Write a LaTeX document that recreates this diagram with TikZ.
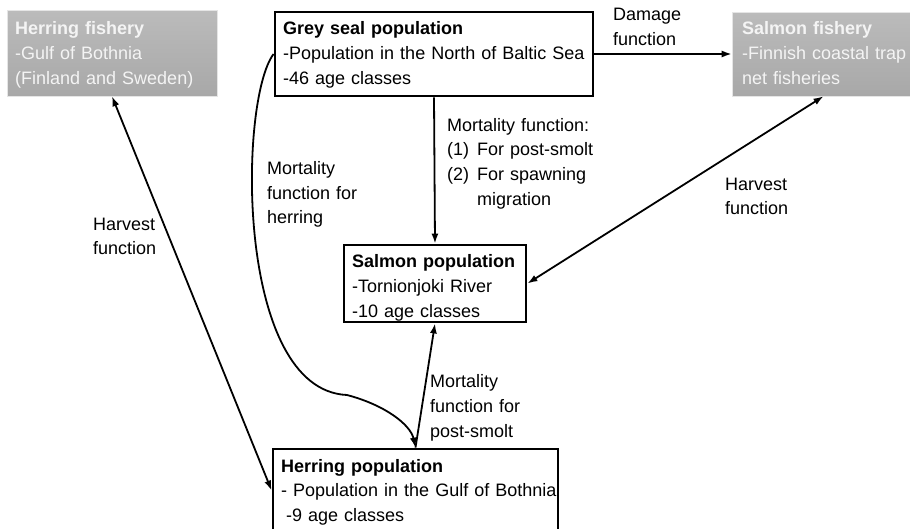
\documentclass[tikz,border=0pt]{standalone}
\usepackage{fontspec}
\setmainfont{Liberation Sans}
\usetikzlibrary{arrows.meta}
\definecolor{fishtop}{HTML}{BBBBBB}
\definecolor{fishbot}{HTML}{A8A8A8}
\definecolor{fishtext}{HTML}{F4F4F4}
\begin{document}
\begin{tikzpicture}[x=1pt,y=-1pt,
  popbox/.style={draw, line width=2.8pt, inner sep=0pt},
  fishbox/.style={top color=fishtop, bottom color=fishbot, draw=white!80!gray, line width=0.6pt, inner sep=0pt},
  txt/.style={font=\fontsize{18pt}{24.8pt}\selectfont, inner sep=0pt, align=left, anchor=base west},
  conn/.style={line width=1.8pt, -{Latex[length=10pt,width=7pt]}},
  biconn/.style={line width=1.8pt, {Latex[length=10pt,width=7pt]}-{Latex[length=10pt,width=7pt]}}
]
\useasboundingbox (0,0) rectangle (910,528);
\clip (0,0) rectangle (910,528);

% boxes
\node[fishbox, minimum width=210pt, minimum height=86pt] (hf) at (112,53) {};
\node[txt, text width=200pt, text=fishtext] (hft) at (15,34.5) {\textbf{Herring fishery}\\-Gulf of Bothnia\\(Finland and Sweden)};

\node[popbox, minimum width=318pt, minimum height=84pt] (gs) at (434,54) {};
\node[txt, text width=305pt] (gst) at (283,34.5) {\textbf{Grey seal population}\\-Population in the North of Baltic Sea\\-46 age classes};

\node[fishbox, minimum width=183pt, minimum height=84pt] (sf) at (823.5,54) {};
\node[txt, text width=175pt, text=fishtext] (sft) at (742,34.5) {\textbf{Salmon fishery}\\-Finnish coastal trap\\net fisheries};

\node[popbox, minimum width=182pt, minimum height=77pt] (sp) at (435,283.5) {};
\node[txt, text width=170pt] (spt) at (352,267.7) {\textbf{Salmon population}\\-Tornionjoki River\\-10 age classes};

\node[popbox, minimum width=285pt, minimum height=83pt] (hp) at (415.5,490.5) {};
\node[txt, text width=280pt] (hpt) at (281,472) {\textbf{Herring population}\\- Population in the Gulf of Bothnia\\\hspace*{5pt}-9 age classes};

% connectors
\draw[conn] (gs.east) -- (sf.west);
\draw[conn] (gs.south) -- (sp.north);
\draw[biconn] (hf.south) -- (hp.west);
\draw[biconn] (sf.south) -- (sp.east);
\draw[conn] (hp.north) -- (sp.south);
\coordinate (bend) at (347,395);
\draw[conn] (gs.west) .. controls +(-35,46) and +(-112,-5) .. (bend) .. controls +(38,10) and +(-5,-23) .. (hp.north);

% labels
\node[txt, text width=100pt] (dmg) at (613,20.5) {Damage\\function};
\node[txt, text width=200pt] (mf) at (447,131) {Mortality function:\\\makebox[30pt][l]{(1)}For post-smolt\\\makebox[30pt][l]{(2)}For spawning\\\hspace*{30pt}migration};
\node[txt, text width=110pt] (mfh) at (267,174.3) {Mortality\\function for\\herring};
\node[txt, text width=100pt] (hvl) at (93,230) {Harvest\\function};
\node[txt, text width=100pt] (hvr) at (725,190) {Harvest\\function};
\node[txt, text width=110pt] (mfp) at (430,387.7) {Mortality\\function for\\post-smolt};
\end{tikzpicture}
\end{document}
